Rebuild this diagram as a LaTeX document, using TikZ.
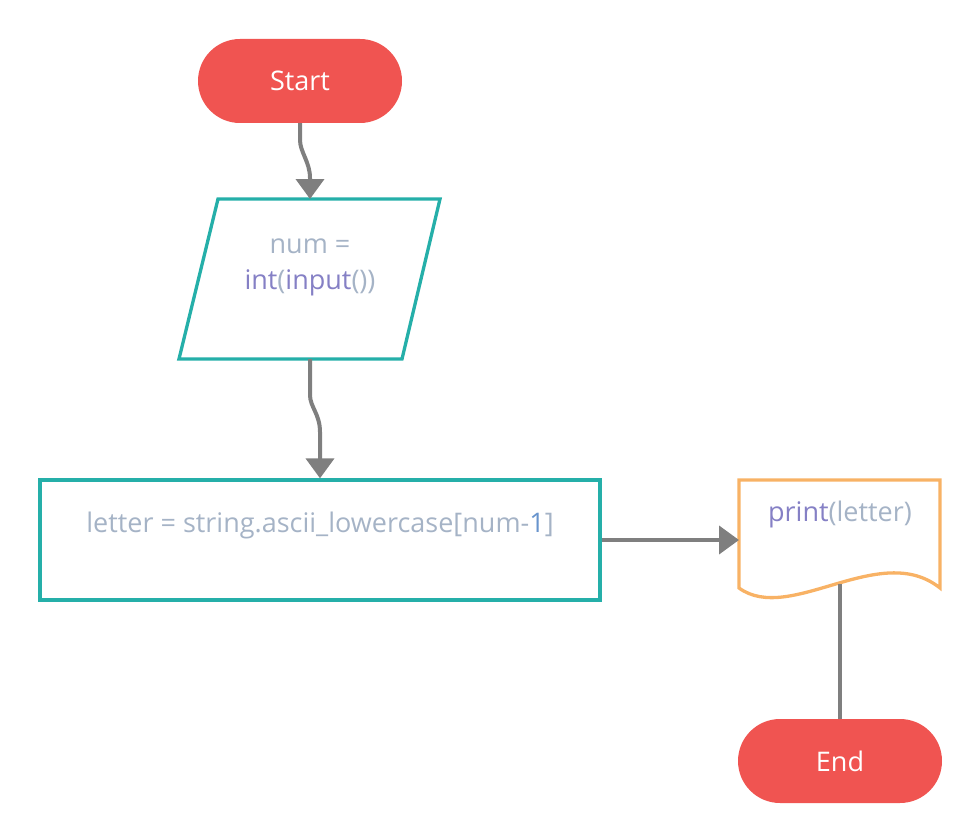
\documentclass[tikz,border=0pt]{standalone}
\usepackage{fontspec}
\setmainfont{Open Sans}
\usetikzlibrary{arrows.meta,shapes.misc}
\definecolor{tred}{HTML}{F05451}
\definecolor{tteal}{HTML}{25AFA9}
\definecolor{torange}{HTML}{F8B265}
\definecolor{arrgray}{HTML}{7F7F7F}
\definecolor{tgray}{HTML}{A5B3C6}
\definecolor{tpurp}{HTML}{8580C5}
\definecolor{tblue}{HTML}{6894CD}
\begin{document}
\begin{tikzpicture}[x=1pt,y=-1pt,
  pill/.style={rounded rectangle, fill=tred, minimum width=204pt, minimum height=84pt,
    text=white, font=\fontsize{27}{32}\selectfont, inner sep=0pt},
  flow/.style={draw=arrgray, line width=4pt, -{Triangle[length=20pt,width=28pt]}},
  plainline/.style={draw=arrgray, line width=4pt},
  tealbox/.style={draw=tteal, line width=3.3pt, line join=miter},
  docbox/.style={draw=torange, line width=3.3pt},
  txt/.style={font=\fontsize{27}{36}\selectfont, align=center, inner sep=0pt, text=tgray}]
\useasboundingbox (0,0) rectangle (980,840);
% shapes
\node[pill] (start) at (300,81) {Start};
\draw[tealbox] (218,199) -- (440,199) -- (402,359) -- (179,359) -- cycle;
\coordinate (iotop) at (310,199);
\coordinate (iobot) at (310,359);
\node[txt] (iotxt) at (310,267) {num =\\\textcolor{tpurp}{int}(\textcolor{tpurp}{input}())};
\node[draw=tteal, line width=3.3pt, minimum width=560pt, minimum height=120pt, inner sep=0pt] (proc) at (320,540) {};
\node[txt] (proctxt) at (320,525) {letter = string.ascii\_lowercase[num-\textcolor{tblue}{1}]};
\draw[docbox] (739,480) -- (940,480) -- (940,588) .. controls (880,540) and (790,625) .. (739,588) -- cycle;
\coordinate (docleft) at (739,540);
\coordinate (docbot) at (840,584);
\node[txt] (doctxt) at (840,514) {\textcolor{tpurp}{print}(letter)};
\node[pill] (end) at (840,761) {End};
% connectors
\draw[flow] (start.south) -- (300,140) .. controls (300,152) and (310,162) .. (310,178) -- (iotop);
\draw[flow] (iobot) -- (310,395) .. controls (310,407) and (320,414) .. (320,432) -- (proc.north);
\draw[flow] (proc.east) -- (docleft);
\draw[plainline] (docbot) -- (end.north);
\end{tikzpicture}
\end{document}
